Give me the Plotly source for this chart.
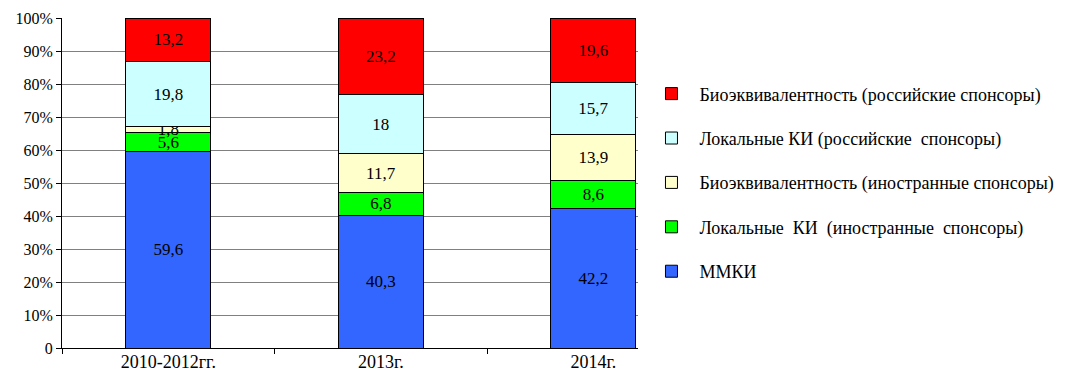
import plotly.graph_objects as go

# Categories (periods) and share of each trial type, %
periods = ["2010-2012гг.", "2013г.", "2014г."]

mmki = [59.6, 40.3, 42.2]
local_foreign = [5.6, 6.8, 8.6]
bioeq_foreign = [1.8, 11.7, 13.9]
local_russian = [19.8, 18, 15.7]
bioeq_russian = [13.2, 23.2, 19.6]

series_names = [
    "ММКИ",
    "Локальные  КИ  (иностранные  спонсоры)",
    "Биоэквивалентность (иностранные спонсоры)",
    "Локальные КИ (российские  спонсоры)",
    "Биоэквивалентность (российские спонсоры)",
]
series_values = [mmki, local_foreign, bioeq_foreign, local_russian, bioeq_russian]
series_colors = ["#3366FF", "#00FF00", "#FFFFCC", "#CCFFFF", "#FF0000"]

y_tick_values = [0, 10, 20, 30, 40, 50, 60, 70, 80, 90, 100]
y_tick_text = ["0", "10%", "20%", "30%", "40%", "50%", "60%", "70%", "80%", "90%", "100%"]

FONT = "'Times New Roman', 'Liberation Serif', 'DejaVu Serif', serif"


def fmt(v):
    return f"{v:g}".replace(".", ",")


fig = go.Figure()
n = len(series_names)
for i, (name, vals, color) in enumerate(zip(series_names, series_values, series_colors)):
    fig.add_trace(go.Bar(
        x=periods,
        y=vals,
        name=name,
        legendgroup=f"g{i}",
        legendrank=n - i,
        marker=dict(color=color, line=dict(color="#000000", width=1)),
        width=0.4,
        text=[fmt(v) for v in vals],
        textposition="inside",
        insidetextanchor="middle",
        constraintext="none",
        textangle=0,
        textfont=dict(family=FONT, size=17, color="#000000"),
        hoverinfo="skip",
    ))

fig.update_layout(
    barmode="stack",
    width=1077,
    height=371,
    margin=dict(l=62, r=439, t=18, b=23),
    paper_bgcolor="white",
    plot_bgcolor="white",
    font=dict(family=FONT, size=16, color="#000000"),
    showlegend=True,
    legend=dict(
        x=1.0095,
        y=0.826,
        xanchor="left",
        yanchor="top",
        traceorder="grouped",
        tracegroupgap=18,
        itemwidth=46,
        font=dict(family=FONT, size=18, color="#000000"),
        bgcolor="rgba(0,0,0,0)",
    ),
    xaxis=dict(
        type="category",
        range=[-0.5, 2.21],
        automargin=False,
        showline=True,
        linecolor="#000000",
        linewidth=1,
        ticks="outside",
        tickson="boundaries",
        ticklen=5,
        tickcolor="#000000",
        ticklabelstandoff=-3,
        showgrid=False,
        tickfont=dict(family=FONT, size=18),
    ),
    yaxis=dict(
        range=[0, 100],
        automargin=False,
        tickvals=y_tick_values,
        ticktext=y_tick_text,
        showline=True,
        linecolor="#000000",
        linewidth=1,
        ticks="outside",
        ticklen=5,
        tickcolor="#000000",
        showgrid=True,
        gridcolor="#808080",
        gridwidth=1,
        zeroline=False,
        tickfont=dict(family=FONT, size=16),
    ),
)

fig.write_html("out.html")
